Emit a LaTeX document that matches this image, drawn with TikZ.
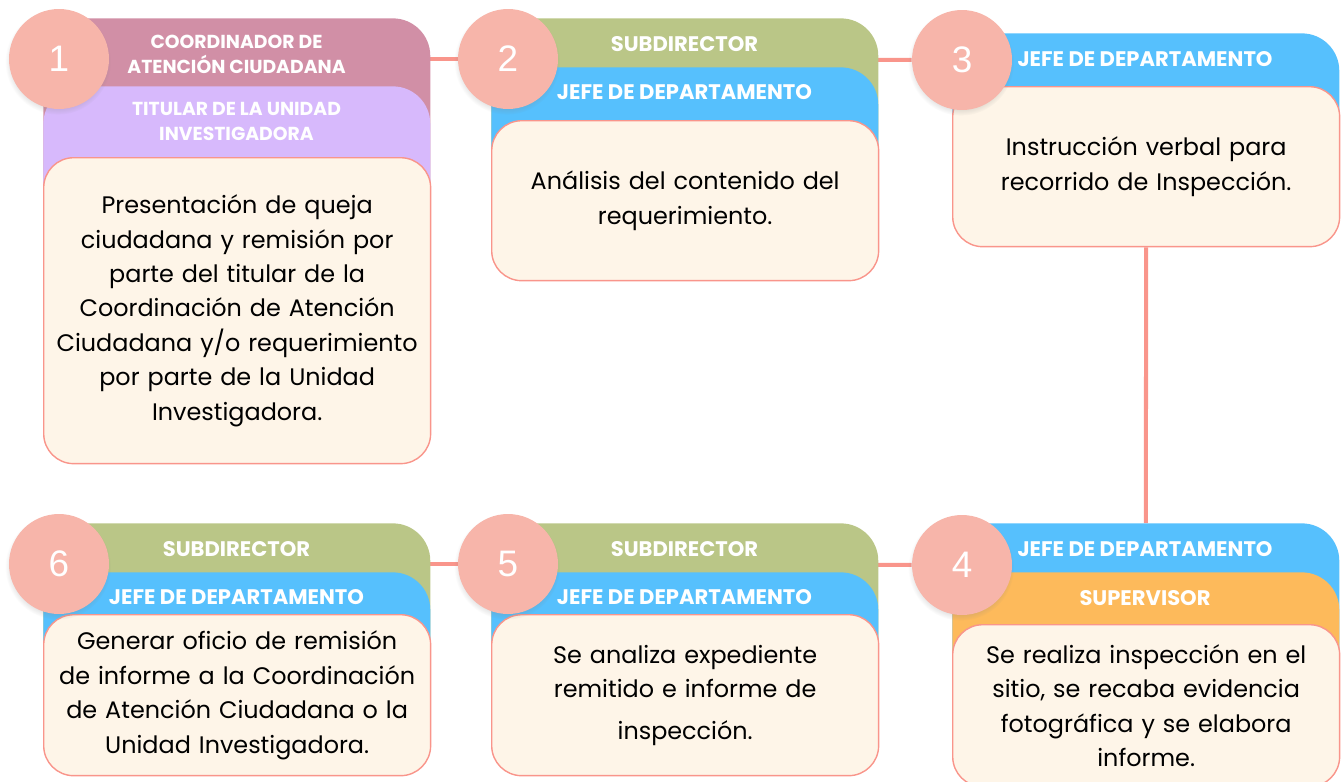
\documentclass[tikz,border=0pt]{standalone}
\usepackage{fontspec}
\setmainfont{Poppins}
\newfontfamily\numfont{Liberation Sans}
\usetikzlibrary{shapes}
\usetikzlibrary{shadows}
\usetikzlibrary{backgrounds}
\definecolor{mauve}{HTML}{D18FA6}
\definecolor{lilac}{HTML}{D7B9FC}
\definecolor{olive}{HTML}{BAC687}
\definecolor{sky}{HTML}{56C0FD}
\definecolor{amber}{HTML}{FDBA5B}
\definecolor{cream}{HTML}{FEF5E8}
\definecolor{salmon}{HTML}{F9958B}
\definecolor{numpink}{HTML}{F7B5AA}
\tikzset{
    layer/.style = {rectangle, anchor=north west, rounded corners=0.75cm, minimum width=7.74cm, inner sep=0pt, fill=#1},
    stepbody/.style = {rectangle, anchor=north west, rounded corners=0.6cm, minimum width=7.74cm, draw=salmon, line width=0.8pt, fill=cream, text width=7.6cm, align=center, inner sep=0pt, font=\fontsize{13.6}{19.6}\selectfont},
    rolename/.style = {text=white, align=center, font=\bfseries\fontsize{12}{14}\selectfont},
    rolesmall/.style = {rolename, font=\bfseries\fontsize{10.7}{14.5}\selectfont}, % two-line roles
    stepnum/.style = {circle, minimum size=2cm, fill=numpink, text=white, font=\numfont\fontsize{21}{21}\selectfont,
        circular drop shadow={shadow xshift=-0.02cm, shadow yshift=-0.05cm, opacity=0.25, shadow scale=1.06}},
    link/.style = {draw=salmon, line width=2.3pt}, % between steps
}
\begin{document}
\begin{tikzpicture}[x=0.02cm, y=-0.02cm]
\useasboundingbox (0, 0) rectangle (1344, 781);
%
% step 1
\node[layer=mauve, minimum height=4.38cm] at (43, 18) (h1a) {};
\node[layer=lilac, minimum height=3.02cm] at (43, 86) (h1b) {};
\node[stepbody, minimum height=6.12cm] at (43, 157) (b1) {Presentación de queja\\ciudadana y remisión por\\parte del titular de la\\Coordinación de Atención\\Ciudadana y/o requerimiento\\por parte de la Unidad\\Investigadora.};
\node[rolesmall] at (236.5, 54.5) (r1a) {COORDINADOR DE\\ATENCIÓN CIUDADANA};
\node[rolesmall] at (236.5, 121.5) (r1b) {TITULAR DE LA UNIDAD\\INVESTIGADORA};
\node[stepnum] at (59, 59) (c1) {1};
%
% step 2
\node[layer=olive, minimum height=3.64cm] at (491, 18) (h2a) {};
\node[layer=sky, minimum height=2.66cm] at (491, 67) (h2b) {};
\node[stepbody, minimum height=3.2cm] at (491, 120) (b2) {Análisis del contenido del\\requerimiento.};
\node[rolename] at (684.5, 44) (r2a) {SUBDIRECTOR};
\node[rolename] at (684.5, 92) (r2b) {JEFE DE DEPARTAMENTO};
\node[stepnum] at (508, 59) (c2) {2};
%
% step 3
\node[layer=sky, minimum height=2.66cm] at (952, 33) (h3a) {};
\node[stepbody, minimum height=3.2cm] at (952, 86) (b3) {Instrucción verbal para\\recorrido de Inspección.};
\node[rolename] at (1145, 59) (r3a) {JEFE DE DEPARTAMENTO};
\node[stepnum] at (962, 60) (c3) {3};
%
% step 4
\node[layer=sky, minimum height=3.62cm] at (952, 523) (h4a) {};
\node[layer=amber, minimum height=2.64cm] at (952, 572) (h4b) {};
\node[stepbody, minimum height=3.24cm] at (952, 624) (b4) {Se realiza inspección en el\\sitio, se recaba evidencia\\fotográfica y se elabora\\informe.};
\node[rolename] at (1145, 549) (r4a) {JEFE DE DEPARTAMENTO};
\node[rolename] at (1145, 598) (r4b) {SUPERVISOR};
\node[stepnum] at (962, 565) (c4) {4};
%
% step 5
\node[layer=olive, minimum height=3.42cm] at (491, 523) (h5a) {};
\node[layer=sky, minimum height=2.44cm] at (491, 572) (h5b) {};
\node[stepbody, minimum height=3.22cm] at (491, 614) (b5) {Se analiza expediente\\remitido e informe de\\[4pt]inspección.};
\node[rolename] at (684.5, 549) (r5a) {SUBDIRECTOR};
\node[rolename] at (684.5, 597) (r5b) {JEFE DE DEPARTAMENTO};
\node[stepnum] at (508, 564) (c5) {5};
%
% step 6
\node[layer=olive, minimum height=3.42cm] at (43, 523) (h6a) {};
\node[layer=sky, minimum height=2.44cm] at (43, 572) (h6b) {};
\node[stepbody, minimum height=3.22cm] at (43, 614) (b6) {Generar oficio de remisión\\de informe a la Coordinación\\de Atención Ciudadana o la\\Unidad Investigadora.};
\node[rolename] at (236.5, 549) (r6a) {SUBDIRECTOR};
\node[rolename] at (236.5, 597) (r6b) {JEFE DE DEPARTAMENTO};
\node[stepnum] at (59, 564) (c6) {6};
%
\begin{scope}[on background layer]
\draw[link] (c1) -- (c2);
\draw[link] (c2) -- (c3);
\draw[link] (b3.south) -- (h4a.north);
\draw[link] (c4) -- (c5);
\draw[link] (c5) -- (c6);
\end{scope}

\end{tikzpicture}
\end{document}
